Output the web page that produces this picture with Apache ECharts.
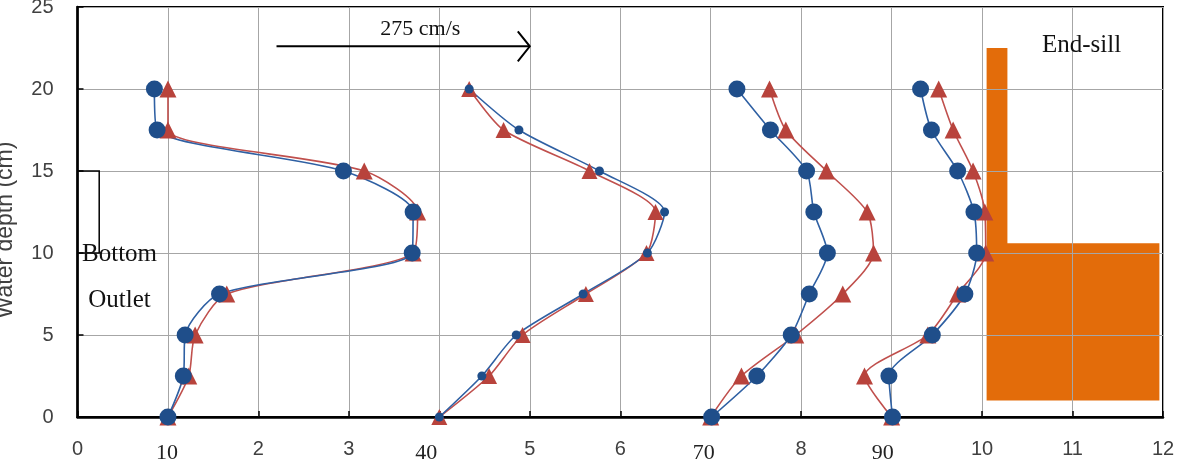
<!DOCTYPE html>
<html>
<head>
<meta charset="utf-8">
<script src="https://cdn.jsdelivr.net/npm/echarts@6/dist/echarts.min.js"></script>
<style>
html,body{margin:0;padding:0;background:#fff;}
#chart{width:1177px;height:471px;}
</style>
</head>
<body>
<div id="chart"></div>
<script>
// ---- data ----
const depths = [0, 2.5, 5, 7.5, 10, 12.5, 15, 17.5, 20];

const profile1Blue = [1.00, 1.17, 1.19, 1.57, 3.70, 3.71, 2.94, 0.88, 0.85];
const profile1Red  = [1.00, 1.23, 1.30, 1.65, 3.71, 3.76, 3.17, 1.00, 1.00];
const profile2Blue = [4.00, 4.47, 4.85, 5.59, 6.30, 6.49, 5.77, 4.88, 4.33];
const profile2Red  = [4.00, 4.55, 4.92, 5.62, 6.29, 6.39, 5.66, 4.71, 4.33];
const profile3Blue = [7.01, 7.51, 7.89, 8.09, 8.29, 8.14, 8.06, 7.66, 7.29];
const profile3Red  = [7.00, 7.34, 7.94, 8.46, 8.80, 8.73, 8.28, 7.83, 7.65];
const profile4Blue = [9.01, 8.97, 9.45, 9.81, 9.94, 9.91, 9.73, 9.44, 9.32];
const profile4Red  = [9.00, 8.70, 9.40, 9.73, 10.04, 10.03, 9.90, 9.68, 9.52];

const xTickLabels = ['0', '10', '2', '3', '40', '5', '6', '70', '8', '90', '10', '11', '12'];
const serifTicks = [1, 4, 7, 9];

// end-sill outline (axis units)
const endSill = [[10.05, 1], [10.05, 22.5], [10.28, 22.5], [10.28, 10.6], [11.96, 10.6], [11.96, 1]];
// bottom outlet outline (axis units)
const bottomOutlet = [[0, 15], [0.24, 15], [0.24, 10], [0, 10]];
// velocity scale arrow (axis units)
const arrowStart = [2.20, 22.6];
const arrowEnd = [5.00, 22.6];
// annotations
const annotationTexts = ['275 cm/s', 'End-sill', 'Bottom', 'Outlet'];
const annotationX = [3.79, 11.10, 0.465, 0.465];
const annotationY = [23.64, 22.68, 9.9, 7.09];

// ---- chart ----
const BLUE_M = '#1f4e8a', BLUE_L = '#2f60a3';
const RED_M = '#b8433c', RED_L = '#c0504d';
const SERIF = '"Liberation Serif", "Times New Roman", serif';
const SANS = '"Liberation Sans", Arial, sans-serif';

function pairs(xs) { return xs.map((x, i) => [x, depths[i]]); }

function lineSeries(name, xs, color, lineColor, symbol, size) {
  return {
    name, type: 'line', data: pairs(xs), smooth: 0.25,
    symbol, symbolSize: size,
    itemStyle: { color, borderWidth: 0 },
    lineStyle: { color: lineColor, width: 1.6 },
    emphasis: { disabled: true },
    animation: false
  };
}

const chart = echarts.init(document.getElementById('chart'), null, { renderer: 'canvas' });

const option = {
  animation: false,
  backgroundColor: '#fff',
  grid: { left: 77.5, right: 14, top: 7, bottom: 54, outerBoundsMode: 'none', containLabel: false, show: true, borderColor: '#000', borderWidth: 2, backgroundColor: 'transparent' },
  xAxis: {
    type: 'value', min: 0, max: 12, interval: 1,
    axisLine: { show: true, lineStyle: { color: '#000', width: 2.5 } },
    axisTick: { show: true, inside: true, length: 6, lineStyle: { color: '#000', width: 1.5 } },
    splitLine: { show: true, lineStyle: { color: '#a6a6a6', width: 1 } },
    axisLabel: {
      margin: 22, fontSize: 20, fontFamily: SANS, color: '#404040',
      formatter: function (v) {
        const t = xTickLabels[Math.round(v)];
        return serifTicks.indexOf(Math.round(v)) >= 0 ? '{s' + Math.round(v) + '|' + t + '}' : t;
      },
      rich: {
        s1: { fontFamily: SERIF, fontSize: 22, color: '#222', padding: [3, 2, 0, 0] },
        s4: { fontFamily: SERIF, fontSize: 22, color: '#222', padding: [3, 26, 0, 0] },
        s7: { fontFamily: SERIF, fontSize: 22, color: '#222', padding: [3, 14, 0, 0] },
        s9: { fontFamily: SERIF, fontSize: 22, color: '#222', padding: [3, 18, 0, 0] }
      }
    }
  },
  yAxis: {
    type: 'value', min: 0, max: 25, interval: 5,
    name: 'Water depth (cm)', nameLocation: 'middle', nameGap: 60,
    nameTextStyle: { fontSize: 23, fontFamily: SANS, color: '#404040', padding: [0, 36, 0, 0] },
    axisLine: { show: true, lineStyle: { color: '#000', width: 2.5 } },
    axisTick: { show: true, inside: true, length: 6, lineStyle: { color: '#000', width: 1.5 } },
    splitLine: { show: true, lineStyle: { color: '#a6a6a6', width: 1 } },
    axisLabel: { margin: 24, fontSize: 20, fontFamily: SANS, color: '#404040' }
  },
  series: [
    {
      type: 'custom', name: 'endSill', z: -1, silent: true,
      data: [[endSill[0][0], endSill[0][1]]],
      renderItem: function (params, api) {
        return { type: 'polygon', shape: { points: endSill.map(p => api.coord(p)) }, style: { fill: '#e36c0a' } };
      }
    },
    {
      type: 'custom', name: 'bottomOutlet', silent: true,
      data: [[bottomOutlet[0][0], bottomOutlet[0][1]]],
      renderItem: function (params, api) {
        return { type: 'polyline', shape: { points: bottomOutlet.map(p => api.coord(p)) }, style: { stroke: '#000', lineWidth: 1.5, fill: null } };
      }
    },
    {
      type: 'custom', name: 'arrow', silent: true,
      data: [[arrowStart[0], arrowStart[1]]],
      renderItem: function (params, api) {
        const a = api.coord(arrowStart), b = api.coord(arrowEnd);
        return {
          type: 'group', children: [
            { type: 'line', shape: { x1: a[0], y1: a[1], x2: b[0], y2: b[1] }, style: { stroke: '#000', lineWidth: 2 } },
            { type: 'polyline', shape: { points: [[b[0] - 12, b[1] - 15], b, [b[0] - 12, b[1] + 15]] }, style: { stroke: '#000', lineWidth: 2, fill: null } }
          ]
        };
      }
    },
    lineSeries('p1 red', profile1Red, RED_M, RED_L, 'triangle', 17),
    lineSeries('p1 blue', profile1Blue, BLUE_M, BLUE_L, 'circle', 17),
    lineSeries('p2 red', profile2Red, RED_M, RED_L, 'triangle', 16),
    lineSeries('p2 blue', profile2Blue, BLUE_M, BLUE_L, 'circle', 9),
    lineSeries('p3 red', profile3Red, RED_M, RED_L, 'triangle', 17),
    lineSeries('p3 blue', profile3Blue, BLUE_M, BLUE_L, 'circle', 17),
    lineSeries('p4 red', profile4Red, RED_M, RED_L, 'triangle', 17),
    lineSeries('p4 blue', profile4Blue, BLUE_M, BLUE_L, 'circle', 17),
    {
      type: 'custom', name: 'annotations', silent: true, z: 10,
      data: annotationX.map((x, i) => [x, annotationY[i]]),
      renderItem: function (params, api) {
        const p = api.coord([api.value(0), api.value(1)]);
        const i = params.dataIndex;
        return {
          type: 'text', x: p[0], y: p[1],
          style: { text: annotationTexts[i], fontFamily: SERIF, fontSize: i === 0 ? 22 : 25, fill: '#111', align: 'center', verticalAlign: 'middle' }
        };
      }
    }
  ]
};
chart.setOption(option);
</script>
</body>
</html>
